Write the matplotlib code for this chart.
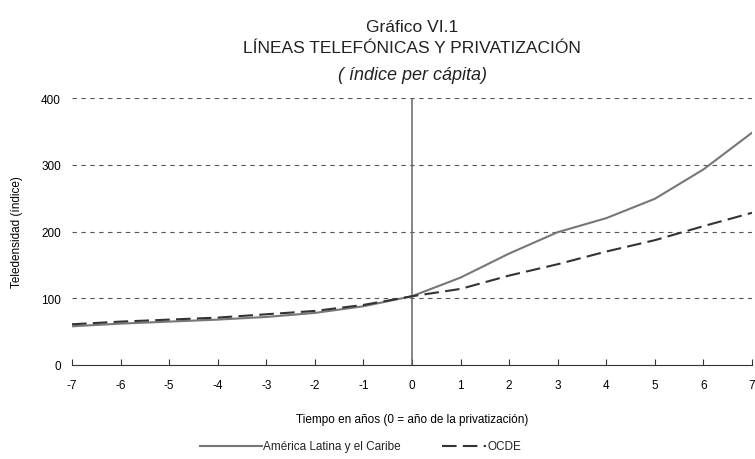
import numpy as np
import matplotlib
matplotlib.use("Agg")
import matplotlib.pyplot as plt
from matplotlib.lines import Line2D

plt.rcParams['font.family'] = ['Liberation Sans', 'DejaVu Sans']
plt.rcParams['axes.unicode_minus'] = False

# años relativos a la privatización y teledensidad (índice)
anios = [-7, -6, -5, -4, -3, -2, -1, 0, 1, 2, 3, 4, 5, 6, 7]
america_latina = [58, 62, 65, 68, 72, 78, 88, 103, 131, 167, 199, 220, 249, 293, 348]
ocde = [61, 65, 68, 71, 76, 81, 90, 103, 114, 134, 151, 170, 187, 208, 228]
ticks_y = [0, 100, 200, 300, 400]

fig = plt.figure(figsize=(7.55, 4.6), dpi=100)
ax = fig.add_axes([72/755, 1-366/460, 680/755, 267/460])

# cuadrícula punteada (sin la de cero, que la hace el eje)
for v in ticks_y[1:]:
    ax.axhline(v, color='#555555', lw=0.8, ls=(0, (4, 4)), zorder=1)
ax.axvline(0, color='#666666', lw=1.1, zorder=2)

estilo_al = dict(color='#777777', lw=1.5)
estilo_ocde = dict(color='#333333', lw=1.5, ls=(0, (7, 3)))
ax.plot(anios, america_latina, zorder=3, **estilo_al)
ax.plot(anios, ocde, zorder=3, **estilo_ocde)

ax.set_xlim(-7, 7)
ax.set_ylim(0, 400)
ax.set_xticks(anios)
ax.set_yticks(ticks_y)
for s in ['left', 'right', 'top']:
    ax.spines[s].set_visible(False)
ax.spines['bottom'].set_color('#333333')
ax.tick_params(axis='x', direction='in', length=4, color='#333333',
               labelsize=8.5, pad=10)
ax.tick_params(axis='y', length=0, labelsize=8.5, pad=8)

ax.set_xlabel('Tiempo en años (0 = año de la privatización)', fontsize=8.5,
              labelpad=16)
ax.set_ylabel('Teledensidad (índice)', fontsize=8.5, labelpad=13)

fig.text(412/755, 1-27/460, 'Gráfico VI.1', ha='center', va='center',
         fontsize=12.5, color='#222222')
fig.text(412/755, 1-49/460, 'LÍNEAS TELEFÓNICAS Y PRIVATIZACIÓN',
         ha='center', va='center', fontsize=12.5, color='#222222')
fig.text(412/755, 1-75/460, '( índice per cápita)', ha='center',
         va='center', fontsize=13, style='italic', color='#222222')

# leyenda dibujada a mano debajo del eje x
yl = 1 - 447/460
fig.add_artist(Line2D([200/755, 262/755], [yl, yl], **estilo_al))
fig.text(263/755, yl, 'América Latina y el Caribe', va='center',
         fontsize=8.5, color='#222222')
fig.add_artist(Line2D([442/755, 486/755], [yl, yl], **estilo_ocde))
fig.text(487/755, yl, 'OCDE', va='center', fontsize=8.5, color='#222222')

fig.savefig('out.png', dpi=100)
